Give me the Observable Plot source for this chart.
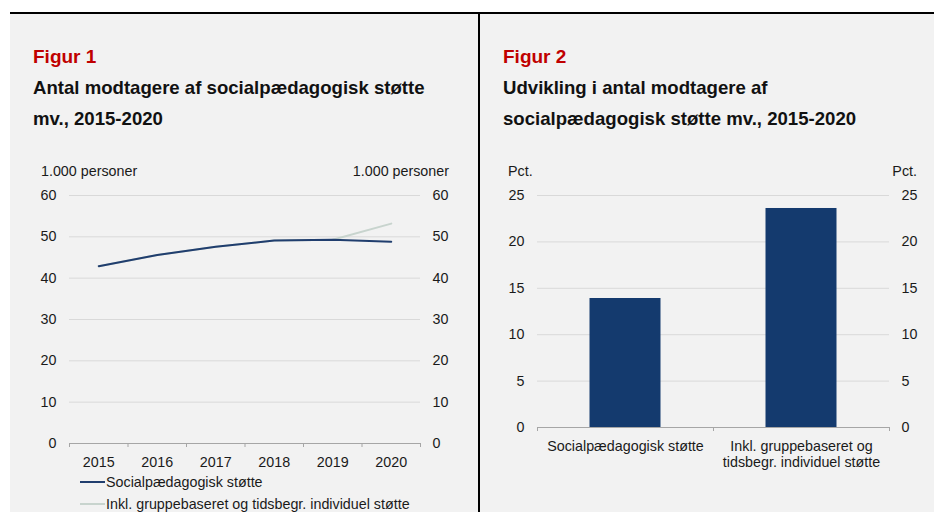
<!DOCTYPE html>
<html><head><meta charset="utf-8">
<script src="https://cdn.jsdelivr.net/npm/d3@7"></script>
<script src="https://cdn.jsdelivr.net/npm/@observablehq/plot@0.6"></script>
<style>
body{margin:0;width:934px;height:512px;position:relative;overflow:hidden;background:#fff;font-family:"Liberation Sans",Arial,sans-serif;color:#1a1a1a;}
.abs{position:absolute;white-space:nowrap;line-height:1;}
.fig{font-size:19px;font-weight:bold;color:#c00000;}
.ttl{font-size:18.6px;font-weight:bold;color:#111;}
.unit{font-size:14.3px;}
.chart{position:absolute;}
.sw{position:absolute;width:25px;height:0;border-top:2px solid;}
</style></head><body>
<div style="position:absolute;left:10px;top:14px;width:924px;height:498px;background:#f2f2f2"></div>
<div style="position:absolute;left:10px;top:12px;width:924px;height:2px;background:#000"></div>
<div style="position:absolute;left:478px;top:12px;width:2px;height:500px;background:#000"></div>

<div class="abs fig" style="left:33px;top:47px">Figur 1</div>
<div class="abs ttl" style="left:33px;top:79px">Antal modtagere af socialpædagogisk støtte</div>
<div class="abs ttl" style="left:33px;top:110px">mv., 2015-2020</div>
<div class="abs fig" style="left:503px;top:47px">Figur 2</div>
<div class="abs ttl" style="left:503px;top:79px">Udvikling i antal modtagere af</div>
<div class="abs ttl" style="left:503px;top:110px">socialpædagogisk støtte mv., 2015-2020</div>

<div class="abs unit" style="left:41px;top:164px">1.000 personer</div>
<div class="abs unit" style="right:485px;top:164px">1.000 personer</div>
<div class="abs unit" style="left:508px;top:164px">Pct.</div>
<div class="abs unit" style="right:17px;top:164px">Pct.</div>

<div id="c1" class="chart" style="left:10px;top:160px"></div>
<div id="c2" class="chart" style="left:480px;top:160px"></div>

<div class="sw" style="left:80px;top:481px;border-color:#203e6e"></div>
<div class="abs unit" style="left:106px;top:475px">Socialpædagogisk støtte</div>
<div class="sw" style="left:80px;top:503px;border-color:#c8d4ce"></div>
<div class="abs unit" style="left:106px;top:497px">Inkl. gruppebaseret og tidsbegr. individuel støtte</div>

<script>
// ---- Figur 1 data ----
const years = [2015, 2016, 2017, 2018, 2019, 2020];
const socialValues = [42.9, 45.6, 47.6, 49.1, 49.3, 48.8];
const inclValues = [42.9, 45.6, 47.6, 49.1, 49.3, 53.2];
const yTicks1 = [0, 10, 20, 30, 40, 50, 60];

// ---- Figur 2 data ----
const barCategories = ["Socialpædagogisk støtte", "Inkl. gruppebaseret og tidsbegr. individuel støtte"];
const barTickLabels = ["Socialpædagogisk støtte", "Inkl. gruppebaseret og\ntidsbegr. individuel støtte"];
const barValues = [13.9, 23.6];
const yTicks2 = [0, 5, 10, 15, 20, 25];

const font = {background: "transparent", fontFamily: "Liberation Sans, Arial, sans-serif", fontSize: "14.3px", color: "#1a1a1a", overflow: "visible"};

const social = years.map((y, i) => ({year: y, value: socialValues[i]}));
const incl = years.map((y, i) => ({year: y, value: inclValues[i]}));
const boundaries = [years[0] - 0.5, ...years.map(y => y + 0.5)];

const chart1 = Plot.plot({
  width: 468, height: 313,
  marginLeft: 59, marginRight: 58, marginTop: 35, marginBottom: 30,
  style: font,
  x: {type: "linear", domain: [boundaries[0], boundaries[boundaries.length - 1]], label: null},
  y: {domain: [0, 60], label: null},
  marks: [
    Plot.ruleY(yTicks1.filter(d => d > 0), {stroke: "#d9d9d9", strokeWidth: 1}),
    Plot.ruleY([0], {stroke: "#a6a6a6", strokeWidth: 1}),
    Plot.axisX({ticks: boundaries, tickSize: 4, tickFormat: () => "", stroke: "#a6a6a6", label: null}),
    Plot.axisX({ticks: years, tickSize: 0, tickPadding: 13, tickFormat: d => String(d), label: null}),
    Plot.axisY({anchor: "left", ticks: yTicks1, tickSize: 0, tickPadding: 13, label: null}),
    Plot.axisY({anchor: "right", ticks: yTicks1, tickSize: 0, tickPadding: 12, label: null}),
    Plot.lineY(incl, {x: "year", y: "value", stroke: "#c8d4ce", strokeWidth: 2}),
    Plot.lineY(social, {x: "year", y: "value", stroke: "#203e6e", strokeWidth: 2})
  ]
});
document.getElementById("c1").append(chart1);

const bars = barCategories.map((c, i) => ({i, category: c, value: barValues[i]}));
const barBounds = d3.range(0, barCategories.length + 1);
const barCenters = barCategories.map((c, i) => i + 0.5);

const chart2 = Plot.plot({
  width: 454, height: 317,
  marginLeft: 57, marginRight: 45, marginTop: 35, marginBottom: 50,
  style: font,
  x: {type: "linear", domain: [0, barCategories.length], label: null},
  y: {domain: [0, 25], label: null},
  marks: [
    Plot.ruleY(yTicks2.filter(d => d > 0), {stroke: "#d9d9d9", strokeWidth: 1}),
    Plot.rectY(bars, {x1: "i", x2: d => d.i + 1, y: "value", fill: "#143a6e", insetLeft: 52.5, insetRight: 52.5}),
    Plot.ruleY([0], {stroke: "#a6a6a6", strokeWidth: 1}),
    Plot.axisX({ticks: barBounds, tickSize: 4, tickFormat: () => "", stroke: "#a6a6a6", label: null}),
    Plot.axisX({ticks: barCenters, tickSize: 0, tickPadding: 13, tickFormat: d => barTickLabels[Math.floor(d)], lineHeight: 1.08, label: null}),
    Plot.axisY({anchor: "left", ticks: yTicks2, tickSize: 0, tickPadding: 13, label: null}),
    Plot.axisY({anchor: "right", ticks: yTicks2, tickSize: 0, tickPadding: 12, label: null})
  ]
});
document.getElementById("c2").append(chart2);
</script>
</body></html>
